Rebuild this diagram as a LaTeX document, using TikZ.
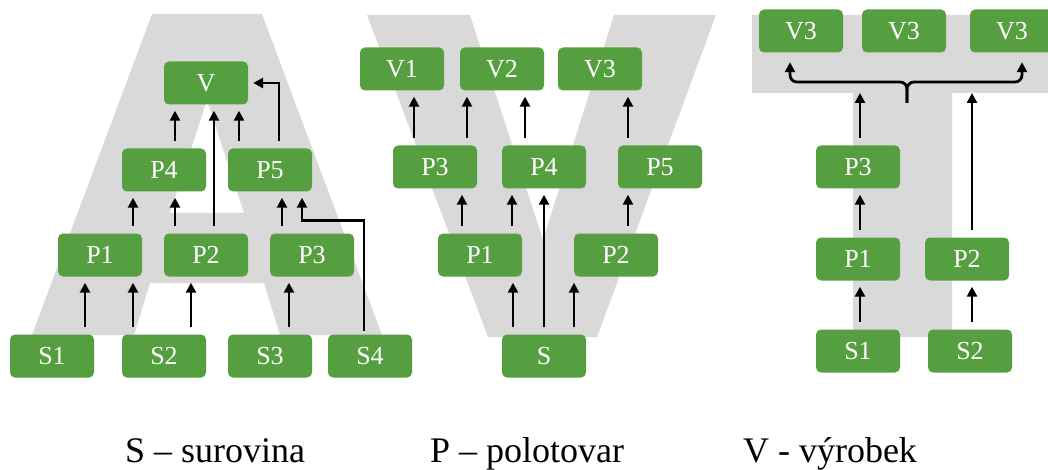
\documentclass[tikz,border=0pt]{standalone}
\usepackage{fontspec}
\setmainfont{Liberation Serif}
\usetikzlibrary{arrows.meta}
\definecolor{boxgreen}{RGB}{86,159,64}
\definecolor{lettergray}{RGB}{217,217,217}
\begin{document}
\begin{tikzpicture}[x=1pt,y=-1pt,
  box/.style={fill=boxgreen, rounded corners=5pt, minimum width=84pt, minimum height=43pt,
    inner sep=0pt, text=white, font=\fontsize{26}{31}\selectfont},
  arr/.style={line width=2.8pt, -{Triangle[length=10pt,width=10pt]}, shorten <=7pt, shorten >=6pt},
  legend/.style={anchor=base, font=\fontsize{36}{43}\selectfont}]
\clip (0,0) rectangle (1048,470);
\fill[white] (0,0) rectangle (1048,470);

% large background letters A, V, T
\fill[lettergray, even odd rule]
  (152,14) -- (262,14) -- (382,335) -- (280,335) -- (264,283) -- (150,283) -- (134,335) -- (32,335) -- cycle
  (207,100) -- (244,213) -- (170,213) -- cycle;
\fill[lettergray] (367,15) -- (470,15) -- (543,240) -- (614,15) -- (716,15) -- (597,337) -- (488,337) -- cycle;
\fill[lettergray] (752,15) -- (1060,15) -- (1060,93) -- (952,93) -- (952,337) -- (853,337) -- (853,93) -- (752,93) -- cycle;

% ---- A: many inputs, one product
\node[box] (aV)  at (206,83)  {V};
\node[box] (aP4) at (164,170) {P4};
\node[box] (aP5) at (270,170) {P5};
\node[box] (aP1) at (100,255) {P1};
\node[box] (aP2) at (206,255) {P2};
\node[box] (aP3) at (312,255) {P3};
\node[box] (aS1) at (52,356)  {S1};
\node[box] (aS2) at (164,356) {S2};
\node[box] (aS3) at (270,356) {S3};
\node[box] (aS4) at (370,356) {S4};

\draw[arr] ([xshift=33pt]aS1.north) -- ([xshift=-15pt]aP1.south);
\draw[arr] ([xshift=-31pt]aS2.north) -- ([xshift=33pt]aP1.south);
\draw[arr] ([xshift=27pt]aS2.north) -- ([xshift=-15pt]aP2.south);
\draw[arr] ([xshift=19pt]aS3.north) -- ([xshift=-23pt]aP3.south);
\draw[arr] ([xshift=33pt]aP1.north) -- ([xshift=-31pt]aP4.south);
\draw[arr] ([xshift=-31pt]aP2.north) -- ([xshift=11pt]aP4.south);
\draw[arr] ([xshift=8pt]aP2.north) -- ([xshift=8pt]aV.south);
\draw[arr] ([xshift=11pt]aP4.north) -- ([xshift=-31pt]aV.south);
\draw[arr] ([xshift=-31pt]aP5.north) -- ([xshift=33pt]aV.south);
\draw[arr] ([xshift=-30pt]aP3.north) -- ([xshift=12pt]aP5.south);
\draw[arr, shorten >=5pt] ([xshift=9pt]aP5.north) |- (aV.east);
\draw[arr, shorten <=3pt] ([xshift=-6pt]aS4.north) |- ([xshift=32pt,yshift=-28.5pt]aP5.south)
  -- ([xshift=32pt]aP5.south);

% ---- V: one input, many products
\node[box] (vV1) at (402,69)  {V1};
\node[box] (vV2) at (502,69)  {V2};
\node[box] (vV3) at (600,69)  {V3};
\node[box] (vP3) at (435,167) {P3};
\node[box] (vP4) at (544,167) {P4};
\node[box] (vP5) at (660,167) {P5};
\node[box] (vP1) at (480,255) {P1};
\node[box] (vP2) at (616,255) {P2};
\node[box] (vS)  at (544,356) {S};

\draw[arr] ([xshift=-21pt]vP3.north) -- ([xshift=12pt]vV1.south);
\draw[arr] ([xshift=32pt]vP3.north) -- ([xshift=-35pt]vV2.south);
\draw[arr] ([xshift=-19pt]vP4.north) -- ([xshift=23pt]vV2.south);
\draw[arr] ([xshift=-32pt]vP5.north) -- ([xshift=28pt]vV3.south);
\draw[arr] ([xshift=-18pt]vP1.north) -- ([xshift=27pt]vP3.south);
\draw[arr] ([xshift=32pt]vP1.north) -- ([xshift=-32pt]vP4.south);
\draw[arr] (vS.north) -- (vP4.south);
\draw[arr] ([xshift=12pt]vP2.north) -- ([xshift=-32pt]vP5.south);
\draw[arr] ([xshift=-31pt]vS.north) -- ([xshift=33pt]vP1.south);
\draw[arr] ([xshift=30pt]vS.north) -- ([xshift=-42pt]vP2.south);

% ---- T: parts assembled into variants
\node[box] (tV1) at (801,31)   {V3};
\node[box] (tV2) at (904,31)   {V3};
\node[box] (tV3) at (1012,31)  {V3};
\node[box] (tP3) at (858,167)  {P3};
\node[box] (tP1) at (858,259)  {P1};
\node[box] (tP2) at (967,259)  {P2};
\node[box] (tS1) at (858,351)  {S1};
\node[box] (tS2) at (970,351)  {S2};

\coordinate (cusp)    at (907,103);
\coordinate (barline) at (907,82);
\coordinate (bar)     at (907,93);
\coordinate (p3top) at ([xshift=2pt]tP3.north);
\coordinate (p2top) at ([xshift=5pt]tP2.north);

\draw[arr] ([xshift=2pt]tS1.north) -- ([xshift=2pt]tP1.south);
\draw[arr] ([xshift=2pt]tS2.north) -- ([xshift=5pt]tP2.south);
\draw[arr] ([xshift=2pt]tP1.north) -- ([xshift=2pt]tP3.south);
\draw[arr, shorten >=0pt] (p3top) -- (p3top |- bar);
\draw[arr, shorten >=0pt] (p2top) -- (p2top |- bar);
\draw[arr, rounded corners=7pt, shorten <=0pt, shorten >=9.5pt]
  (cusp) -- (barline) -| ([xshift=-11pt]tV1.south);
\draw[arr, rounded corners=7pt, shorten <=0pt, shorten >=9.5pt]
  (cusp) -- (barline) -| ([xshift=10pt]tV3.south);

% ---- legend
\node[legend] (lS) at (215,462) {S – surovina};
\node[legend] (lP) at (527,462) {P – polotovar};
\node[legend] (lV) at (830,462) {V - výrobek};
\end{tikzpicture}
\end{document}
